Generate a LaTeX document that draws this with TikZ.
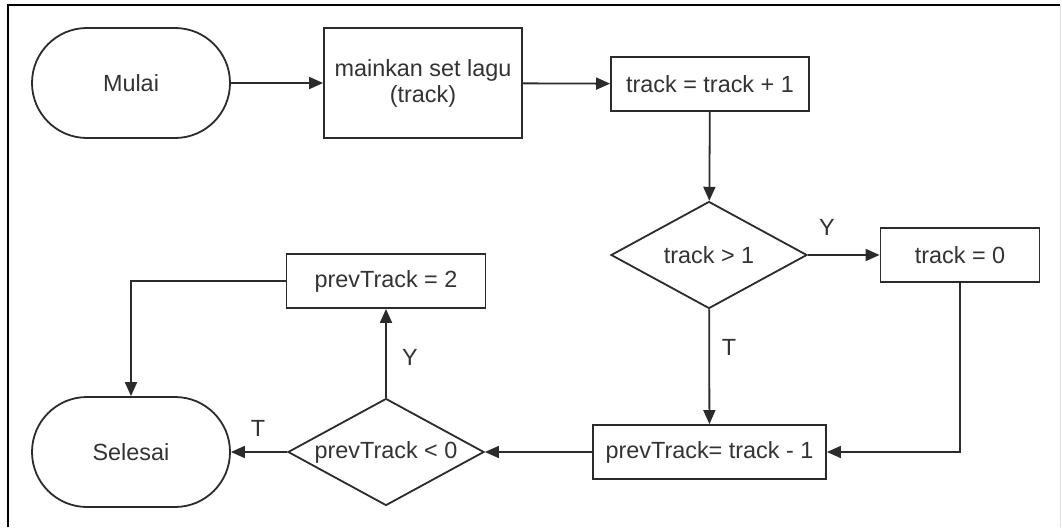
\documentclass[tikz,border=0pt]{standalone}
\usepackage{fontspec}
\setmainfont{Liberation Sans}
\usetikzlibrary{shapes.geometric,arrows.meta}
\definecolor{ink}{HTML}{2B2B2B}
\definecolor{txt}{HTML}{333333}
\begin{document}
\begin{tikzpicture}[x=1pt,y=-1pt,
  base/.style={draw=ink, line width=1.8pt, fill=white, text=txt,
    font=\fontsize{23.4}{26}\selectfont, inner sep=0pt, align=center},
  proc/.style={base, rectangle, minimum width=#1, minimum height=54},
  term/.style={base, rectangle, rounded corners=55, minimum width=198, minimum height=110},
  dec/.style={base, diamond, minimum width=196, minimum height=107},
  lbl/.style={text=txt, font=\fontsize{23.4}{26}\selectfont, inner sep=0pt},
  arr/.style={draw=ink, line width=1.8pt,
    -{Triangle[length=14pt,width=12pt]}}]
  % page and frame
  \useasboundingbox (0,0) rectangle (1062,527);
  \fill[white] (0,0) rectangle (1062,527);
  \draw[black, line width=2pt] (7.5,527) -- (7.5,5.5) -- (1060,5.5);
  \draw[black!12, line width=1.5pt] (1060.5,5) -- (1060.5,527);

  % nodes
  \node[term] (start) at (131,83) {Mulai};
  \node[base, rectangle, minimum width=198, minimum height=110] (play) at (423,83)
    {mainkan set lagu\\(track)};
  \node[proc=198] (inc) at (710,84) {track = track + 1};
  \node[dec] (d1) at (709,255) {};
  \node[lbl] at (d1) {track > 1};
  \node[proc=159] (zero) at (960,255) {track = 0};
  \node[proc=233] (prev) at (709.5,452) {prevTrack= track - 1};
  \node[dec] (d2) at (386,452) {};
  \node[lbl] at (d2) {prevTrack < 0};
  \node[proc=199] (two) at (386,281) {prevTrack = 2};
  \node[term] (stop) at (131,452) {Selesai};

  % connectors
  \draw[arr] (start) -- (play);
  \draw[arr] (play) -- (inc);
  \draw[arr] (inc) -- (d1);
  \draw[arr] (d1) -- (zero);
  \draw[arr] (d1) -- (prev);
  \draw[arr] (zero.south) |- (prev.east);
  \draw[arr] (prev) -- (d2);
  \draw[arr] (d2) -- (stop);
  \draw[arr] (d2) -- (two);
  \draw[arr] (two.west) -| (stop.north);

  % branch labels
  \node[lbl] (y1) at (827,227) {Y};
  \node[lbl] (t1) at (729,347) {T};
  \node[lbl] (y2) at (410,357) {Y};
  \node[lbl] (t2) at (258,428) {T};
\end{tikzpicture}
\end{document}
